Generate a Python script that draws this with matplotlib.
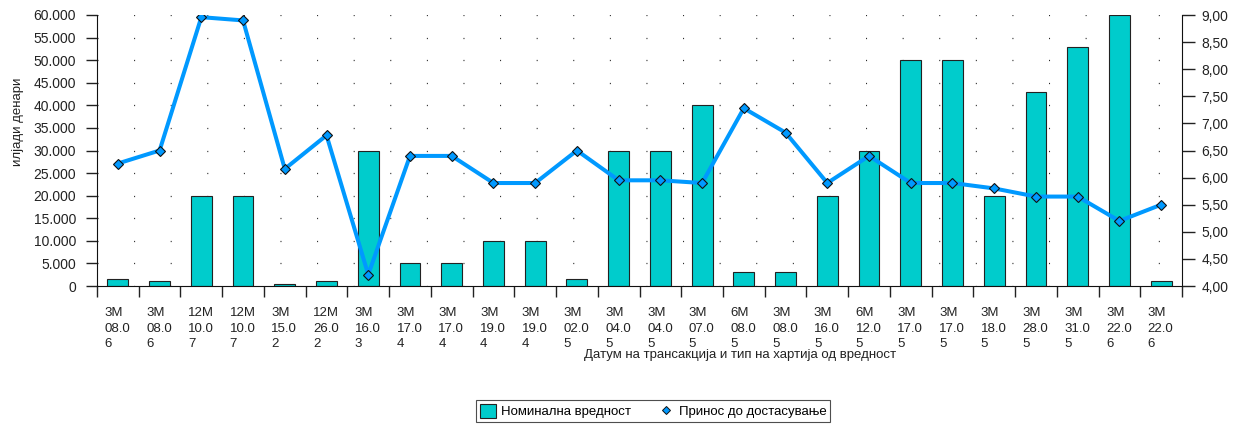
import matplotlib
matplotlib.use("Agg")
import matplotlib.pyplot as plt
from matplotlib.patches import Patch
from matplotlib.lines import Line2D
from matplotlib.ticker import FuncFormatter, MultipleLocator

plt.rcParams['font.family'] = ['Liberation Sans', 'DejaVu Sans']
plt.rcParams['lines.scale_dashes'] = False

maturity = ["3M", "3M", "12M", "12M", "3M", "12M", "3M", "3M", "3M", "3M", "3M", "3M", "3M",
            "3M", "3M", "6M", "3M", "3M", "6M", "3M", "3M", "3M", "3M", "3M", "3M", "3M"]
dates = ["08.06", "08.06", "10.07", "10.07", "15.02", "26.02", "16.03", "17.04", "17.04",
         "19.04", "19.04", "02.05", "04.05", "04.05", "07.05", "08.05", "08.05", "16.05",
         "12.05", "17.05", "17.05", "18.05", "28.05", "31.05", "22.06", "22.06"]
nominal = [1500, 1000, 20000, 20000, 500, 1000, 30000, 5000, 5000, 10000, 10000, 1500, 30000,
           30000, 40000, 3000, 3000, 20000, 30000, 50000, 50000, 20000, 43000, 53000, 60000, 1000]
yield_ = [6.26, 6.50, 8.96, 8.90, 6.16, 6.78, 4.21, 6.40, 6.40, 5.90, 5.90, 6.50, 5.95,
          5.95, 5.90, 7.28, 6.83, 5.90, 6.40, 5.90, 5.90, 5.80, 5.65, 5.65, 5.20, 5.50]

W, H = 1239, 425
fig = plt.figure(figsize=(W / 100, H / 100), dpi=100)
L, R, T, B = 97, 1182, 15, 286
ax = fig.add_axes([L / W, 1 - B / H, (R - L) / W, (B - T) / H])
ax2 = ax.twinx()

n = len(nominal)
x = list(range(n))
bar_color = '#00CCCC'
line_color = '#0099FF'
txt = '#222222'

ax.bar(x, nominal, width=0.5, color=bar_color, edgecolor='#222222', linewidth=0.8, zorder=2)
ax.set_xlim(-0.5, n - 0.5)
ax.set_ylim(0, 60000)
ax.yaxis.set_major_locator(MultipleLocator(5000))
ax.yaxis.set_major_formatter(FuncFormatter(lambda v, p: f"{int(v):,}".replace(",", ".")))
ax.set_axisbelow(True)
ax.yaxis.grid(True, color='#222222', linewidth=0.9, linestyle=(0, (0.72, 25.63)))

ax.set_xticks([i - 0.5 for i in range(n + 1)])
ax.set_xticklabels([])
ax.tick_params(axis='x', length=8, width=1, color='#222222', direction='out')
ax.tick_params(axis='y', length=8, width=1, color='#222222', labelsize=10, pad=7,
               labelcolor=txt)

ax.spines['top'].set_visible(False)
ax2.spines['top'].set_visible(False)
ax2.spines['left'].set_visible(False)
ax2.spines['bottom'].set_visible(False)
for sp in ['left', 'bottom']:
    ax.spines[sp].set_color('#111111')
ax.spines['right'].set_visible(False)
ax2.spines['right'].set_color('#111111')

ax2.plot(x, yield_, color=line_color, linewidth=2.9, marker='D', markersize=4.6,
         markerfacecolor=line_color, markeredgecolor='#111111', markeredgewidth=0.8, zorder=3)
ax2.set_ylim(4, 9)
ax2.yaxis.set_major_locator(MultipleLocator(0.5))
ax2.yaxis.set_major_formatter(FuncFormatter(lambda v, p: f"{v:.2f}".replace(".", ",")))
ax2.tick_params(axis='y', length=9.5, width=1, color='#222222', labelsize=10, pad=4.3,
                labelcolor=txt)

for i in range(n):
    ax.annotate(f"{maturity[i]}\n{dates[i][:4]}\n{dates[i][4:]}",
                xy=(i - 0.5 + 0.18, 0), xycoords=('data', 'axes fraction'),
                xytext=(0, -15), textcoords='offset points',
                ha='left', va='top', fontsize=9.5, color=txt, linespacing=1.42)

fig.text(740 / W, 1 - 355 / H, "Датум на трансакција и тип на хартија од вредност",
         ha='center', va='center', fontsize=9.5, color=txt)
fig.text(18 / W, 1 - 122 / H, "илјади денари", rotation=90,
         ha='center', va='center', fontsize=9.5, color=txt)

handles = [Patch(facecolor=bar_color, edgecolor='#222222', linewidth=0.8),
           Line2D([], [], linestyle='none', marker='D', markersize=4, markerfacecolor=line_color,
                  markeredgecolor='#111111', markeredgewidth=0.7)]
leg = fig.legend(handles, ["Номинална вредност", "Принос до достасување"],
                 loc='upper left', bbox_to_anchor=(476 / W, 1 - 400 / H), ncol=2,
                 fontsize=9.5, frameon=True, fancybox=False, edgecolor='#222222',
                 handlelength=1.25, handleheight=1.25, handletextpad=0.35, columnspacing=2.0,
                 borderpad=0.3, borderaxespad=0)
leg.get_frame().set_linewidth(0.8)

fig.savefig("out.png", dpi=100)
